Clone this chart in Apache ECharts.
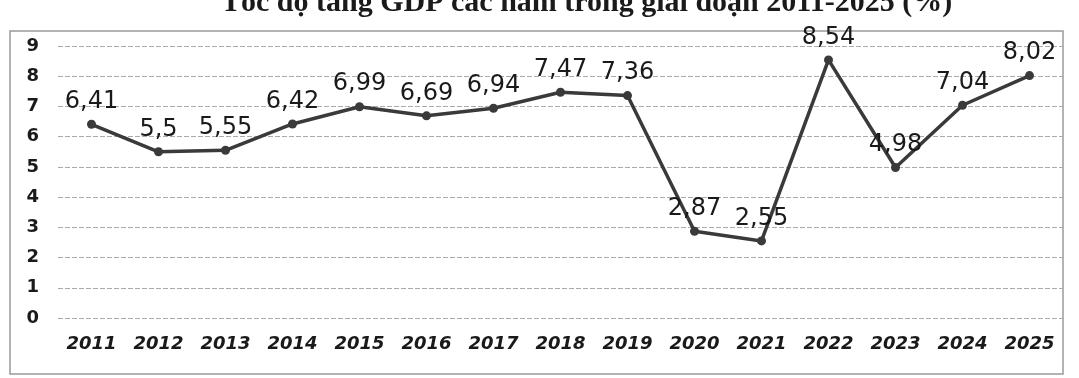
<!DOCTYPE html>
<html>
<head>
<meta charset="utf-8">
<script src="https://cdn.jsdelivr.net/npm/echarts@6/dist/echarts.min.js"></script>
<style>html,body{margin:0;padding:0;background:#fff;}#c{width:1079px;height:378px;}</style>
</head>
<body>
<div id="c"></div>
<script>
const titleText = 'Tốc độ tăng GDP các năm trong giai đoạn 2011-2025 (%)';
const years = ['2011','2012','2013','2014','2015','2016','2017','2018','2019','2020','2021','2022','2023','2024','2025'];
const gdpGrowth = [6.41, 5.5, 5.55, 6.42, 6.99, 6.69, 6.94, 7.47, 7.36, 2.87, 2.55, 8.54, 4.98, 7.04, 8.02];
const yTicks = [0,1,2,3,4,5,6,7,8,9];

const chart = echarts.init(document.getElementById('c'), null, {renderer:'canvas'});
chart.setOption({
  backgroundColor:'#fff',
  animation:false,
  title:{
    text:titleText, left:216, top:-17,
    textStyle:{fontFamily:'Liberation Serif', fontWeight:'bold', fontSize:30, color:'#1a1a1a'}
  },
  graphic:[{
    type:'rect', shape:{x:10, y:31, width:1053, height:343},
    style:{fill:'none', stroke:'#9a9a9a', lineWidth:1.5}, silent:true
  }],
  grid:{left:58, right:16, top:46, bottom:60},
  xAxis:{
    type:'category', data:years, boundaryGap:true,
    axisLine:{show:false}, axisTick:{show:false},
    axisLabel:{margin:17, fontFamily:'DejaVu Sans', fontStyle:'italic', fontWeight:'bold', fontSize:18, color:'#1a1a1a'}
  },
  yAxis:{
    type:'value', min:0, max:9, interval:1,
    axisLine:{show:false}, axisTick:{show:false},
    axisLabel:{margin:19, fontFamily:'DejaVu Sans', fontWeight:'bold', fontSize:18, color:'#1a1a1a',
      formatter:v=>yTicks.includes(v)?String(v):''},
    splitLine:{lineStyle:{color:'#ababab', width:1, type:[5,2]}}
  },
  series:[{
    type:'line', data:gdpGrowth,
    symbol:'circle', symbolSize:9,
    lineStyle:{color:'#3a3a3a', width:3.5},
    itemStyle:{color:'#3a3a3a'},
    label:{show:true, position:'top', distance:6, fontFamily:'DejaVu Sans', fontSize:24, color:'#1a1a1a',
      formatter:p=>String(p.value).replace('.', ',')}
  }]
});
</script>
</body>
</html>
